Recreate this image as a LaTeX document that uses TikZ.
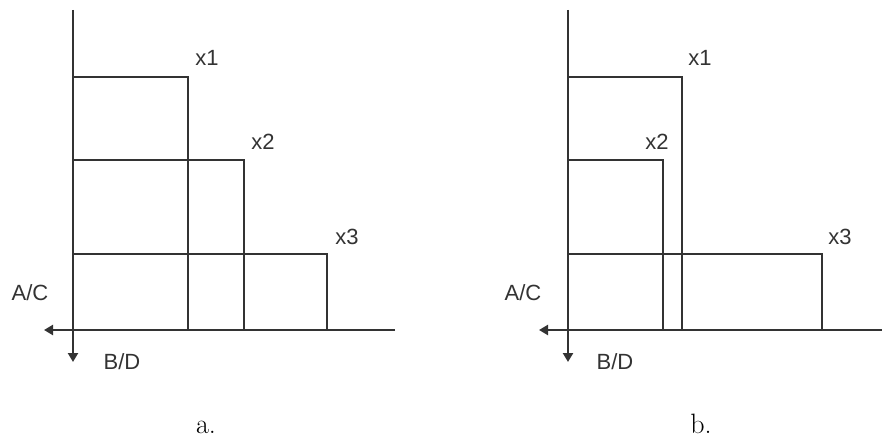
\documentclass[tikz,border=0pt]{standalone}
\usepackage{fontspec}
\newfontfamily\arialf{Liberation Sans}
\usetikzlibrary{arrows.meta}
\definecolor{ln}{HTML}{333333}
\tikzset{
  ax/.style={draw=ln, line width=2.8pt, -{Triangle[length=9pt,width=10pt]}},
  bx/.style={draw=ln, line width=2.8pt},
  lbl/.style={font=\arialf\fontsize{22}{22}\selectfont, text=ln, inner sep=0pt},
  captxt/.style={font=\fontsize{28}{28}\selectfont, inner sep=0pt, anchor=base}
}
\begin{document}
\begin{tikzpicture}[x=1pt,y=-1pt]
\useasboundingbox (0,0) rectangle (882,441);
% panel a
\coordinate (aT) at (73,10);
\coordinate (aB) at (73,362);
\coordinate (aR) at (395,330);
\coordinate (aL) at (44,330);
\draw[ax] (aT) -- (aB);
\draw[ax] (aR) -- (aL);
\draw[bx] (74,77) -| (188,330);
\draw[bx] (74,160) -| (244,330);
\draw[bx] (74,254) -| (327,330);
\node[lbl] (ax1) at (207,58) {x1};
\node[lbl] (ax2) at (263,142) {x2};
\node[lbl] (ax3) at (347,237) {x3};
\node[lbl] (aac) at (30,293) {A/C};
\node[lbl] (abd) at (122,362) {B/D};
\node[captxt] (capa) at (206,433) {a.};
% panel b
\coordinate (bT) at (568,10);
\coordinate (bB) at (568,362);
\coordinate (bR) at (882,330);
\coordinate (bL) at (539,330);
\draw[ax] (bT) -- (bB);
\draw[ax] (bR) -- (bL);
\draw[bx] (569,77) -| (682,330);
\draw[bx] (569,160) -| (663,330);
\draw[bx] (569,254) -| (822,330);
\node[lbl] (bx1) at (700,58) {x1};
\node[lbl] (bx2) at (657,142) {x2};
\node[lbl] (bx3) at (840,237) {x3};
\node[lbl] (bac) at (523,293) {A/C};
\node[lbl] (bbd) at (615,362) {B/D};
\node[captxt] (capb) at (701,433) {b.};
\end{tikzpicture}
\end{document}
